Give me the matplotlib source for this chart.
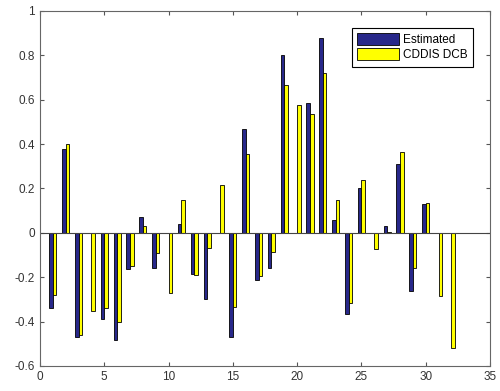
import matplotlib.pyplot as plt
import numpy as np

plt.rcParams['font.family'] = ['Liberation Sans', 'DejaVu Sans']

sats = np.arange(1, 33)
estimated = [-0.34, 0.38, -0.47, 0, -0.39, -0.485, -0.163, 0.07, -0.158, 0,
             0.038, -0.186, -0.30, 0, -0.468, 0.468, -0.214, -0.158, 0.80, 0,
             0.584, 0.879, 0.057, -0.365, 0.20, 0, 0.033, 0.312, -0.26, 0.13,
             0, 0]
cddis = [-0.28, 0.40, -0.46, -0.35, -0.34, -0.40, -0.148, 0.033, -0.09, -0.27,
         0.15, -0.19, -0.068, 0.216, -0.335, 0.354, -0.196, -0.087, 0.668, 0.576,
         0.535, 0.72, 0.15, -0.314, 0.238, -0.072, 0.005, 0.366, -0.16, 0.136,
         -0.284, -0.52]

fig = plt.figure(figsize=(5, 3.91), dpi=100)
ax = fig.add_axes([0.08, 0.064, 0.90, 0.908])

w = 0.27
ax.bar(sats - 0.14, estimated, w, color='#28288a', edgecolor='black', linewidth=0.6, label='Estimated')
ax.bar(sats + 0.14, cddis, w, color='#ffff00', edgecolor='black', linewidth=0.6, label='CDDIS DCB')
ax.axhline(0, color='#444444', linewidth=0.8)

ax.set_xlim(0, 35)
ax.set_ylim(-0.6, 1)
ax.set_xticks(np.arange(0, 36, 5))
ax.set_yticks(np.arange(-0.6, 1.01, 0.2))
ax.set_yticklabels(['-0.6', '-0.4', '-0.2', '0', '0.2', '0.4', '0.6', '0.8', '1'])
ax.tick_params(direction='in', top=True, right=True, labelsize=8.5, length=3,
               color='#555555', labelcolor='#333333')
for s in ax.spines.values():
    s.set_color('#666666')
    s.set_linewidth(0.8)

leg = ax.legend(loc='upper right', fontsize=8.5, fancybox=False, framealpha=1,
                edgecolor='black', handlelength=3.6, handleheight=1.2,
                borderpad=0.45, labelspacing=0.2, handletextpad=0.3,
                bbox_to_anchor=(0.975, 0.97))
leg.get_frame().set_linewidth(0.8)

plt.savefig('out.png')
